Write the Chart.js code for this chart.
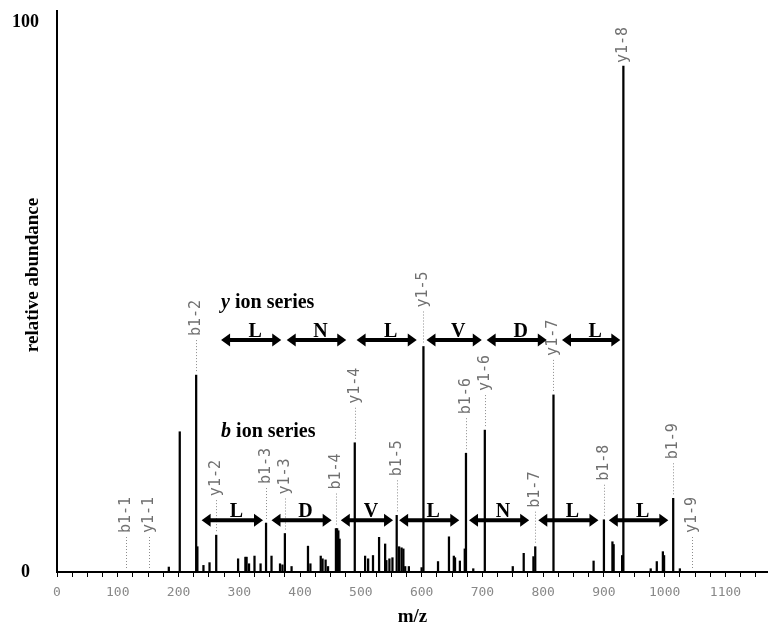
<!DOCTYPE html>
<html>
<head>
<meta charset="utf-8">
<script src="https://cdn.jsdelivr.net/npm/chart.js@4"></script>
<style>
html, body { margin: 0; padding: 0; background: #fff; }
</style>
</head>
<body>
<canvas id="spectrum" width="768" height="626"></canvas>
<script>
// MS/MS spectrum - peaks (m/z, relative abundance)
const peakMz = [184, 202, 229, 231, 241, 251, 262, 298, 310, 312, 316, 325, 335, 344,
  353, 367, 371, 375, 386, 413, 417, 434, 437, 442, 446, 459, 461, 463,
  465, 490, 507, 512, 520, 530, 540, 542, 547, 552, 559, 563, 567, 570,
  573, 579, 600, 603, 627, 645, 653, 655, 663, 671, 673, 685, 704, 750,
  768, 784, 787, 817, 883, 900, 914, 916, 930, 932, 977, 987, 997, 999,
  1014, 1025];
const peakAbundance = [0.9, 25.5, 35.8, 4.6, 1.2, 1.7, 6.7, 2.4, 2.7, 2.7, 1.5, 2.9, 1.5, 8.9,
  2.9, 1.5, 1.3, 7.0, 1.0, 4.7, 1.5, 2.9, 2.4, 2.2, 1.0, 7.9, 7.9, 7.5,
  6.0, 23.5, 2.9, 2.4, 3.0, 6.3, 5.1, 2.1, 2.4, 2.6, 10.3, 4.6, 4.4, 4.2,
  1.0, 1.0, 0.8, 41.0, 1.9, 6.4, 2.9, 2.6, 2.0, 4.2, 21.6, 0.6, 25.8, 1.0,
  3.4, 2.8, 4.6, 32.2, 2.0, 9.5, 5.5, 5.0, 3.0, 92.0, 0.6, 1.9, 3.7, 3.0,
  13.4, 0.6];

// fragment ion labels
const ionNames = ['b1-1', 'y1-1', 'b1-2', 'y1-2', 'b1-3', 'y1-3', 'b1-4', 'y1-4', 'b1-5',
  'y1-5', 'b1-6', 'y1-6', 'b1-7', 'y1-7', 'b1-8', 'y1-8', 'b1-9', 'y1-9'];
const ionMz = [114, 151, 229, 262, 344, 375, 459, 490, 559,
  603, 673, 704, 787, 817, 900, 932, 1014, 1045];

// residue steps between consecutive ions (m/z from / to)
const yResidues = ['L', 'N', 'L', 'V', 'D', 'L'];
const yStepFrom = [270, 378, 493, 608, 707, 831];
const yStepTo = [369, 476, 592, 699, 806, 927];
const bResidues = ['L', 'D', 'V', 'L', 'N', 'L', 'L'];
const bStepFrom = [238, 353, 467, 563, 678, 792, 908];
const bStepTo = [339, 452, 553, 662, 777, 891, 1006];

const xTickStep = 25;
const xLabelStep = 100;
const yTicks = [0, 100];

function heightAt(mz) {
  let h = 0;
  peakMz.forEach((m, i) => { if (Math.abs(m - mz) <= 1) h = Math.max(h, peakAbundance[i]); });
  return h;
}

const serif = '"Liberation Serif", "Times New Roman", serif';

function drawArrow(ctx, x1, x2, yy) {
  const head = 9, half = 6.5, w = 2;
  ctx.beginPath();
  ctx.moveTo(x1, yy);
  ctx.lineTo(x1 + head, yy - half);
  ctx.lineTo(x1 + head, yy - w);
  ctx.lineTo(x2 - head, yy - w);
  ctx.lineTo(x2 - head, yy - half);
  ctx.lineTo(x2, yy);
  ctx.lineTo(x2 - head, yy + half);
  ctx.lineTo(x2 - head, yy + w);
  ctx.lineTo(x1 + head, yy + w);
  ctx.lineTo(x1 + head, yy + half);
  ctx.closePath();
  ctx.fill();
}

const annotate = {
  id: 'annotate',
  afterDatasetsDraw(chart, args, opts) {
    const { ctx, chartArea } = chart;
    const x = chart.scales.x, y = chart.scales.y;

    // ion labels with dotted leader lines
    ionNames.forEach((name, i) => {
      const px = Math.round(x.getPixelForValue(ionMz[i])) + 0.5;
      const top = y.getPixelForValue(heightAt(ionMz[i]));
      const textBottom = Math.max(top - 39, chartArea.top + 52);
      if (top - 3 > textBottom + 4) {
        ctx.save();
        ctx.strokeStyle = '#8c8c8c';
        ctx.lineWidth = 1;
        ctx.setLineDash([1, 2]);
        ctx.beginPath();
        ctx.moveTo(px, textBottom + 4);
        ctx.lineTo(px, top - 3);
        ctx.stroke();
        ctx.restore();
      }
      ctx.save();
      ctx.translate(px, textBottom);
      ctx.rotate(-Math.PI / 2);
      ctx.font = '15px "DejaVu Sans Mono", monospace';
      ctx.fillStyle = '#707070';
      ctx.textAlign = 'left';
      ctx.textBaseline = 'middle';
      ctx.fillText(name, 0, 0);
      ctx.restore();
    });

    // residue arrows
    ctx.save();
    ctx.fillStyle = '#000';
    const rows = [
      { from: yStepFrom, to: yStepTo, res: yResidues, level: opts.yArrowLevel },
      { from: bStepFrom, to: bStepTo, res: bResidues, level: opts.bArrowLevel }
    ];
    rows.forEach(r => {
      const yy = y.getPixelForValue(r.level);
      r.res.forEach((letter, i) => {
        const x1 = x.getPixelForValue(r.from[i]);
        const x2 = x.getPixelForValue(r.to[i]);
        drawArrow(ctx, x1, x2, yy);
        ctx.font = 'bold 20px ' + serif;
        ctx.textAlign = 'center';
        ctx.textBaseline = 'alphabetic';
        ctx.fillText(letter, (x1 + x2) / 2 + 4, yy - 3);
      });
    });

    // series captions
    opts.captions.forEach(c => {
      const cx = x.getPixelForValue(c.mz);
      const cy = y.getPixelForValue(c.level);
      ctx.textAlign = 'left';
      ctx.textBaseline = 'alphabetic';
      ctx.font = 'italic bold 20px ' + serif;
      ctx.fillText(c.ion, cx, cy);
      const w = ctx.measureText(c.ion).width;
      ctx.font = 'bold 20px ' + serif;
      ctx.fillText(c.rest, cx + w, cy);
    });

    // y axis title
    ctx.translate(33, 275);
    ctx.rotate(-Math.PI / 2);
    ctx.font = 'bold 19px ' + serif;
    ctx.textAlign = 'center';
    ctx.textBaseline = 'middle';
    ctx.fillText('relative abundance', 0, 0);
    ctx.restore();
  }
};

new Chart(document.getElementById('spectrum'), {
  type: 'bar',
  data: {
    datasets: [{
      data: peakMz.map((m, i) => ({ x: m, y: peakAbundance[i] })),
      backgroundColor: '#000',
      barThickness: 1.6
    }]
  },
  options: {
    responsive: false,
    devicePixelRatio: 1,
    animation: false,
    layout: { padding: { top: 11, right: 0, bottom: 0, left: 0 } },
    plugins: {
      legend: { display: false },
      tooltip: { enabled: false },
      annotate: {
        yArrowLevel: 42.2,
        bArrowLevel: 9.4,
        captions: [
          { ion: 'y', rest: ' ion series', mz: 270, level: 48 },
          { ion: 'b', rest: ' ion series', mz: 270, level: 24.5 }
        ]
      }
    },
    scales: {
      x: {
        type: 'linear',
        min: 0,
        max: 1170,
        offset: false,
        grid: { display: true, drawOnChartArea: false, drawTicks: true, tickLength: 5, color: '#000', offset: false },
        border: { display: true, color: '#000', width: 2 },
        ticks: {
          stepSize: xTickStep,
          autoSkip: false,
          maxRotation: 0,
          includeBounds: false,
          padding: 8,
          color: '#888',
          font: { family: '"DejaVu Sans Mono", monospace', size: 13 },
          callback: v => (v % xLabelStep === 0 ? String(v) : '')
        },
        title: {
          display: true,
          text: 'm/z',
          color: '#000',
          font: { family: serif, size: 19, weight: 'bold' },
          padding: { top: 0, bottom: -2 }
        },
        afterFit: s => { s.height = 54; s.paddingLeft = 0; s.paddingRight = 0; }
      },
      y: {
        type: 'linear',
        min: 0,
        max: 102,
        afterBuildTicks: s => { s.ticks = yTicks.map(v => ({ value: v })); },
        grid: { display: false, drawTicks: false },
        border: { display: true, color: '#000', width: 2 },
        ticks: {
          crossAlign: 'center',
          padding: 18,
          color: '#000',
          font: { family: serif, size: 18, weight: 'bold' }
        },
        afterFit: s => { s.width = 57; s.paddingTop = 0; s.paddingBottom = 0; }
      }
    }
  },
  plugins: [annotate]
});
</script>
</body>
</html>
